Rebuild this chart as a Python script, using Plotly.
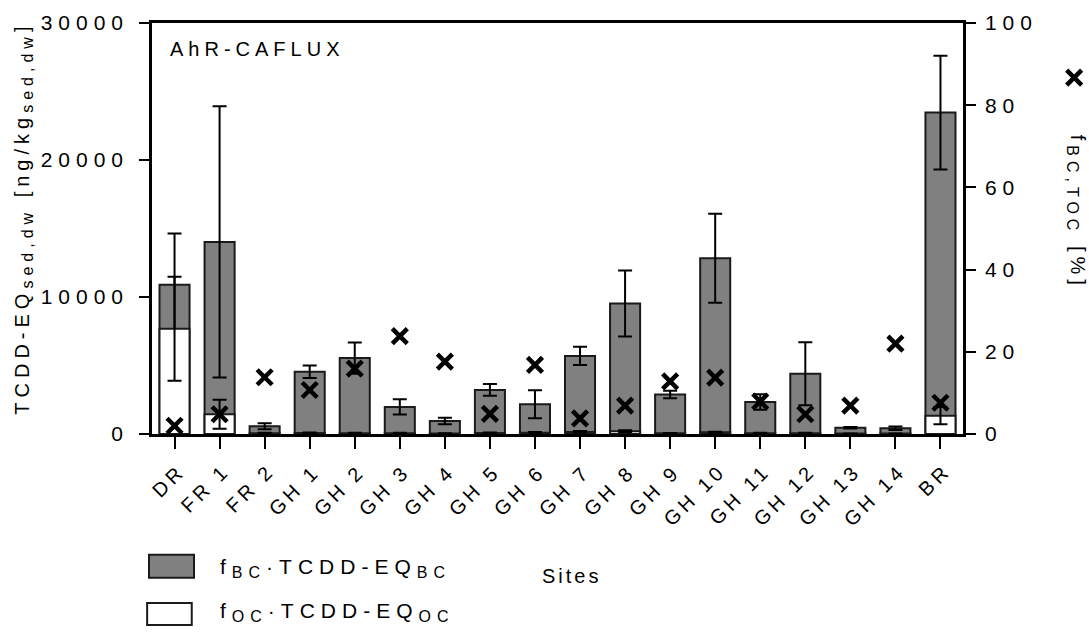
import plotly.graph_objects as go

sites = ["DR", "FR 1", "FR 2", "GH 1", "GH 2", "GH 3", "GH 4", "GH 5", "GH 6",
         "GH 7", "GH 8", "GH 9", "GH 10", "GH 11", "GH 12", "GH 13", "GH 14", "BR"]
# total TCDD-EQ (BC + OC contribution), top of stacked bar
total_eq = [10900, 14020, 560, 4540, 5540, 1975, 950, 3220, 2170,
            5700, 9530, 2880, 12830, 2340, 4400, 460, 420, 23460]
total_err = [3730, 9900, 220, 460, 1140, 560, 230, 430, 1020,
             670, 2410, 270, 3250, 570, 2300, 60, 130, 4150]
# OC contribution (white, bottom part)
oc_eq = [7680, 1440, 60, 80, 60, 60, 40, 80, 100,
         150, 200, 50, 120, 60, 60, 30, 30, 1340]
oc_err = [3800, 1060, 30, 30, 30, 30, 20, 30, 40,
          60, 80, 20, 50, 30, 30, 10, 10, 630]
# f_BC,TOC [%]
f_bc_toc = [2.0, 4.8, 13.8, 10.7, 15.9, 23.8, 17.6, 4.9, 16.8,
            3.8, 6.9, 12.8, 13.7, 7.9, 4.8, 6.9, 22.0, 7.6]
left_ticks = [0, 10000, 20000, 30000]
right_ticks = [0, 20, 40, 60, 80, 100]

FONT = "Liberation Sans, Arial, sans-serif"
GREY = "#808080"
EDGE = "#1a1a1a"

fig = go.Figure()
fig.add_trace(go.Bar(
    x=sites, y=total_eq, width=0.667,
    marker=dict(color=GREY, line=dict(color=EDGE, width=2)),
    error_y=dict(type="data", array=total_err, visible=True, color="black", thickness=2, width=7),
    showlegend=False, name="f_BC·TCDD-EQ_BC"))
fig.add_trace(go.Bar(
    x=sites, y=oc_eq, width=0.667,
    marker=dict(color="white", line=dict(color=EDGE, width=2)),
    error_y=dict(type="data", array=oc_err, visible=True, color="black", thickness=2, width=7),
    showlegend=False, name="f_OC·TCDD-EQ_OC"))
fig.add_trace(go.Scatter(
    x=sites, y=f_bc_toc, yaxis="y2", mode="markers",
    marker=dict(symbol="x-thin", size=15, color="black", line=dict(color="black", width=4.5)),
    name=" ", showlegend=True, legend="legend2"))

axis_font = dict(family=FONT, size=21, color="black")
fig.update_layout(
    width=1089, height=632,
    margin=dict(l=152, r=126, t=23, b=198, autoexpand=False),
    paper_bgcolor="white", plot_bgcolor="white",
    barmode="overlay",
    font=dict(family=FONT, color="black"),
    xaxis=dict(range=[-0.5, len(sites) - 0.5],
               showline=True, linecolor="black", linewidth=2.5, mirror=True,
               ticks="outside", ticklen=12, tickwidth=2, tickcolor="black",
               showticklabels=False,
               showgrid=False, zeroline=False, automargin=False),
    yaxis=dict(range=[0, 30000], tickvals=left_ticks, tickformat="d",
               showline=True, linecolor="black", linewidth=2.5,
               ticks="outside", ticklen=10, tickwidth=2, tickcolor="black",
               tickfont=axis_font, ticklabelstandoff=6,
               showgrid=False, zeroline=False, automargin=False),
    yaxis2=dict(range=[0, 100], tickvals=right_ticks, overlaying="y", side="right",
                showline=True, linecolor="black", linewidth=2.5,
                ticks="outside", ticklen=10, tickwidth=2, tickcolor="black",
                tickfont=axis_font, ticklabelstandoff=5,
                showgrid=False, zeroline=False, automargin=False),
    legend2=dict(xref="container", yref="container", x=0.968, y=0.8766,
                 xanchor="left", yanchor="middle",
                 bgcolor="rgba(0,0,0,0)", font=dict(size=14)),
)

def sp(txt, ls):
    return f'<span style="letter-spacing:{ls}px">{txt}</span>'

def sub(txt, size):
    return f'<sub><span style="font-size:{size}px">{txt}</span></sub>'

ann = [
    dict(text=sp("AhR-CAFLUX", 5), x=0.0197, y=0.937, xanchor="left", yanchor="middle",
         font=dict(size=20)),
    dict(text=sp("TCDD-EQ" + sub("sed,dw", 16) + " [ng/kg" + sub("sed,dw", 16) + "]", 5.0),
         x=-0.158, y=0.526, textangle=-90, xanchor="center", yanchor="middle", font=dict(size=20)),
    dict(text=sp("f" + sub("BC,TOC", 16) + " [%]", 5), x=1.141, y=0.54,
         textangle=90, xanchor="center", yanchor="middle", font=dict(size=20)),
    dict(text=sp("Sites", 3), x=0.517, y=-0.345, xanchor="center", yanchor="middle",
         font=dict(size=20)),
    dict(text=sp("f" + sub("BC", 16) + "·TCDD-EQ" + sub("BC", 16), 6), x=0.0814, y=-0.326,
         xanchor="left", yanchor="middle", font=dict(size=21)),
    dict(text=sp("f" + sub("OC", 16) + "·TCDD-EQ" + sub("OC", 16), 6), x=0.0814, y=-0.433,
         xanchor="left", yanchor="middle", font=dict(size=21)),
]
for a in ann:
    a.update(xref="paper", yref="paper", showarrow=False)
# category labels under the x axis, rotated like the reference
for s in sites:
    ann.append(dict(text=sp(s, 4), x=s, xref="x", xshift=17.5, y=-0.056, yref="paper",
                    textangle=-45, xanchor="right", yanchor="top", showarrow=False,
                    font=dict(size=20)))
for a in ann:
    a["font"].update(family=FONT, color="black")
fig.update_layout(annotations=ann)

fig.add_shape(type="rect", xref="paper", yref="paper", x0=-0.0037, x1=0.0518, y0=-0.350, y1=-0.294,
              fillcolor=GREY, line=dict(color=EDGE, width=2))
fig.add_shape(type="rect", xref="paper", yref="paper", x0=-0.006, x1=0.049, y0=-0.465, y1=-0.411,
              fillcolor="white", line=dict(color=EDGE, width=2))

post = """
var s=document.createElement('style');
s.innerHTML='html,body{margin:0;padding:0;overflow:hidden}.ytick text,.y2tick text{letter-spacing:6px}';
document.head.appendChild(s);
"""
fig.write_html("out.html", post_script=post, config={"displayModeBar": False})
